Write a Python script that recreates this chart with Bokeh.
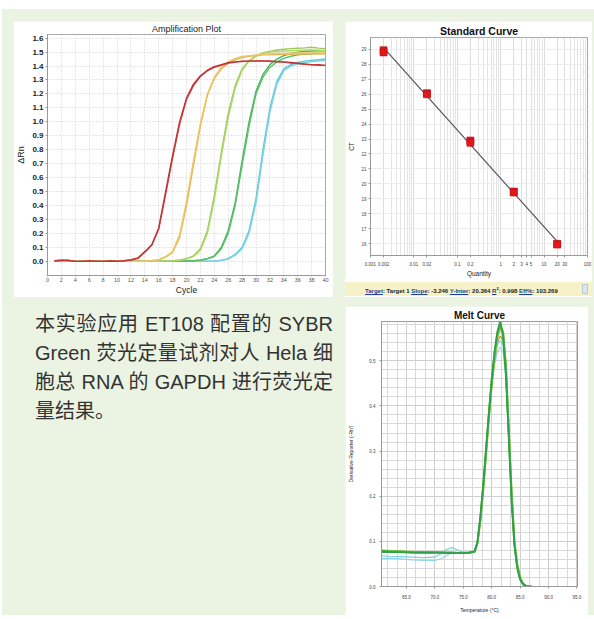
from bokeh.plotting import figure
from bokeh.layouts import row, column
from bokeh.models import (Spacer, Div, FixedTicker, SingleIntervalTicker, PrintfTickFormatter,
                          CustomJSTickFormatter, Range1d)
from bokeh.embed import file_html
from bokeh.resources import INLINE
import math

FONT = "Liberation Sans"

# ---------------- Amplification plot data ----------------
cycles = list(range(1, 41))
amp_red_a = [0.005,0.01,0.006,0.0,0.0,0.004,0.0,0.0,0.003,0.0, 0.005,0.012,0.025,0.07,0.12,0.24,0.50,0.76,1.00,1.17,
             1.27,1.33,1.37,1.395,1.41,1.425,1.43,1.435,1.435,1.437, 1.437,1.435,1.432,1.43,1.425,1.42,1.415,1.41,1.41,1.405]
amp_red_b = [0.0,0.005,0.008,0.002,0.0,0.003,0.002,0.0,0.004,0.002, 0.004,0.01,0.02,0.065,0.115,0.23,0.48,0.74,0.98,1.16,
             1.26,1.325,1.365,1.39,1.405,1.42,1.428,1.432,1.435,1.435, 1.436,1.434,1.43,1.428,1.422,1.418,1.412,1.408,1.405,1.405]
amp_yel_a = [0.0,0.002,0.0,0.0,0.001,0.0,0.0,0.002,0.0,0.0, 0.0,0.001,0.0,0.002,0.005,0.01,0.03,0.065,0.17,0.40,
             0.69,0.97,1.19,1.31,1.38,1.42,1.445,1.46,1.47,1.475, 1.48,1.48,1.482,1.484,1.485,1.486,1.486,1.487,1.488,1.488]
amp_yel_b = [0.002,0.0,0.001,0.0,0.0,0.002,0.0,0.0,0.001,0.0, 0.002,0.0,0.001,0.003,0.006,0.012,0.035,0.07,0.19,0.43,
             0.72,0.99,1.2,1.32,1.39,1.43,1.455,1.468,1.475,1.48, 1.485,1.488,1.49,1.49,1.492,1.493,1.494,1.494,1.495,1.495]
amp_lgr_a = [0.0,0.0,0.002,0.0,0.0,0.0,0.001,0.0,0.0,0.002, 0.0,0.0,0.001,0.0,0.002,0.0,0.003,0.005,0.01,0.02,
             0.04,0.09,0.22,0.47,0.78,1.06,1.26,1.38,1.44,1.475, 1.495,1.505,1.515,1.52,1.525,1.528,1.53,1.535,1.528,1.525]
amp_lgr_b = [0.002,0.0,0.0,0.001,0.0,0.0,0.0,0.002,0.0,0.0, 0.001,0.0,0.0,0.002,0.0,0.001,0.002,0.004,0.008,0.018,
             0.035,0.08,0.2,0.44,0.75,1.03,1.24,1.37,1.435,1.47, 1.49,1.5,1.505,1.508,1.51,1.512,1.515,1.515,1.514,1.512]
amp_grn_a = [0.0,0.001,0.0,0.0,0.002,0.0,0.0,0.0,0.001,0.0, 0.0,0.002,0.0,0.0,0.001,0.0,0.0,0.002,0.0,0.003,
             0.005,0.01,0.02,0.04,0.1,0.22,0.42,0.72,1.0,1.22, 1.34,1.41,1.45,1.475,1.49,1.50,1.505,1.508,1.51,1.51]
amp_grn_b = [0.001,0.0,0.0,0.002,0.0,0.0,0.001,0.0,0.0,0.0, 0.002,0.0,0.0,0.001,0.0,0.0,0.001,0.0,0.002,0.002,
             0.004,0.008,0.018,0.035,0.09,0.2,0.4,0.69,0.97,1.2, 1.32,1.39,1.43,1.455,1.47,1.48,1.485,1.488,1.49,1.49]
amp_cyn_a = [0.0,0.0,0.001,0.0,0.0,0.002,0.0,0.0,0.0,0.001, 0.0,0.0,0.002,0.0,0.0,0.0,0.001,0.0,0.0,0.002,
             0.0,0.001,0.002,0.003,0.008,0.02,0.05,0.1,0.22,0.45, 0.80,1.10,1.29,1.38,1.41,1.425,1.435,1.44,1.445,1.45]
amp_cyn_b = [0.001,0.0,0.0,0.0,0.002,0.0,0.0,0.001,0.0,0.0, 0.002,0.0,0.0,0.001,0.0,0.0,0.0,0.002,0.0,0.0,
             0.001,0.0,0.001,0.002,0.006,0.017,0.045,0.09,0.2,0.42, 0.76,1.07,1.27,1.365,1.4,1.415,1.425,1.432,1.436,1.44]
amp_xticks = [0, 2, 4, 6, 8, 10, 12, 14, 16, 18, 20, 22, 24, 26, 28, 30, 32, 34, 36, 38, 40]
amp_yticks = [0.0, 0.1, 0.2, 0.3, 0.4, 0.5, 0.6, 0.7, 0.8, 0.9, 1.0, 1.1, 1.2, 1.3, 1.4, 1.5, 1.6]

# ---------------- Standard curve data ----------------
std_qty = [0.002, 0.002, 0.02, 0.02, 0.2, 0.2, 2, 2, 20, 20]
std_ct = [28.95, 28.8, 26.07, 26.0, 22.9, 22.75, 19.48, 19.42, 15.98, 15.93]
std_slope = -3.246
std_yinter = 20.364
std_r2 = 0.998
std_eff = 103.269
std_xticks = [0.001, 0.002, 0.01, 0.02, 0.1, 0.2, 1, 2, 3, 4, 5, 10, 20, 30, 100]
std_yticks = [16, 17, 18, 19, 20, 21, 22, 23, 24, 25, 26, 27, 28, 29]

# ---------------- Melt curve data ----------------
melt_temp = [60.6, 62, 64, 66, 68, 70, 71, 72, 73, 74, 75, 76, 77, 77.5, 78, 78.5, 79, 79.5, 80, 80.5, 81, 81.5,
             82, 82.5, 83, 83.5, 84, 84.5, 85, 85.5, 86, 86.5, 87]
melt_cyan_a = [0.062,0.063,0.061,0.059,0.058,0.058,0.061,0.068,0.076,0.075,0.073,0.074,0.077,
               0.097,0.15,0.22,0.30,0.375,0.44,0.49,0.52,0.53, 0.52,0.46,0.33,0.2,0.095,0.045,0.017,0.006,0.002,0.0,0.0]
melt_cyan_b = [0.068,0.067,0.066,0.065,0.064,0.065,0.072,0.082,0.086,0.081,0.076,0.075,0.077,
               0.098,0.152,0.222,0.30,0.38,0.45,0.50,0.535,0.545, 0.535,0.465,0.335,0.2,0.095,0.045,0.017,0.006,0.002,0.0,0.0]
melt_yellow = [0.078,0.078,0.077,0.076,0.075,0.075,0.075,0.075,0.075,0.074,0.074,0.075,0.077,
               0.096,0.145,0.21,0.29,0.37,0.445,0.505,0.55,0.57, 0.56,0.49,0.35,0.21,0.10,0.05,0.02,0.007,0.002,0.0,0.0]
melt_lgreen = [0.080,0.079,0.078,0.077,0.076,0.076,0.076,0.076,0.075,0.075,0.075,0.076,0.078,
               0.097,0.148,0.215,0.295,0.375,0.45,0.51,0.555,0.575, 0.565,0.49,0.35,0.21,0.10,0.048,0.02,0.007,0.002,0.0,0.0]
melt_green = [0.079,0.078,0.077,0.076,0.076,0.076,0.075,0.075,0.075,0.074,0.074,0.075,0.077,
              0.098,0.15,0.22,0.30,0.38,0.455,0.515,0.56,0.582, 0.56,0.48,0.34,0.2,0.095,0.045,0.018,0.006,0.002,0.0,0.0]
melt_dgreen = [0.077,0.076,0.076,0.075,0.075,0.075,0.075,0.074,0.074,0.074,0.074,0.075,0.078,
               0.10,0.155,0.225,0.305,0.385,0.46,0.52,0.565,0.588, 0.555,0.47,0.33,0.19,0.09,0.04,0.015,0.005,0.001,0.0,0.0]
melt_red = [0.075,0.076,0.075,0.075,0.074,0.074,0.075,0.074,0.074,0.074,0.073,0.074,0.076,
            0.095,0.145,0.21,0.29,0.37,0.44,0.50,0.54,0.555, 0.545,0.47,0.33,0.19,0.09,0.04,0.015,0.005,0.001,0.0,0.0]
melt_xticks = [65, 70, 75, 80, 85, 90, 95]
melt_yticks = [0.0, 0.1, 0.2, 0.3, 0.4, 0.5]

paragraph = ["本实验应用 ET108 配置的 SYBR",
             "Green 荧光定量试剂对人 Hela 细",
             "胞总 RNA 的 GAPDH 进行荧光定",
             "量结果。"]

BG = "#EBF3E3"


def style_axes(p, tick_size, label_size, tick_color="#333333"):
    for ax in (p.xaxis[0], p.yaxis[0]):
        ax.major_label_text_font = FONT
        ax.major_label_text_font_size = tick_size
        ax.major_label_text_color = tick_color
        ax.axis_label_text_font = FONT
        ax.axis_label_text_font_size = label_size
        ax.axis_label_text_font_style = "normal"
        ax.axis_label_text_color = "#222222"
        ax.axis_line_color = "#9a9a9a"
        ax.major_tick_line_color = "#9a9a9a"
        ax.minor_tick_line_color = None
        ax.major_tick_in = 0
        ax.major_tick_out = 2
        ax.major_label_standoff = 2
        ax.axis_label_standoff = 3


# ---------------- Amplification plot ----------------
amp = figure(width=320, height=276, x_range=Range1d(0, 40), y_range=Range1d(-0.101, 1.626),
             output_backend="svg", toolbar_location=None,
             min_border_left=30, min_border_right=8, min_border_top=12, min_border_bottom=19,
             background_fill_color="white", border_fill_color="white", outline_line_color="#a8a8a8")
amp.title.text = "Amplification Plot"
amp.title.align = "center"
amp.title.text_font = FONT
amp.title.text_font_size = "9px"
amp.title.text_font_style = "normal"
amp.title.text_color = "#222222"
amp.title.standoff = 1
style_axes(amp, "6px", "9px", "#555555")
amp.yaxis.major_label_text_font_size = "8px"
amp.yaxis.major_label_text_color = "#222222"
amp.yaxis.major_label_text_font_style = "bold"
amp.xaxis.major_tick_out = 1
amp.xaxis.major_label_standoff = 1
amp.xaxis.axis_label_standoff = 0
amp.xaxis.axis_label_text_font_size = "8.5px"
amp.xaxis.major_label_text_font_size = "5.5px"
amp.xaxis.axis_label = "Cycle"
amp.yaxis.axis_label = "ΔRn"
amp.xaxis.ticker = FixedTicker(ticks=amp_xticks)
amp.yaxis.ticker = FixedTicker(ticks=amp_yticks)
amp.yaxis.formatter = PrintfTickFormatter(format="%.1f")
for g in (amp.xgrid[0], amp.ygrid[0]):
    g.grid_line_color = "#cfcfcf"
    g.grid_line_dash = "1 2"
    g.grid_line_width = 1

amp_series = [
    (amp_cyn_a, "#5EC8DA"), (amp_cyn_b, "#7FD3E2"),
    (amp_grn_a, "#45B55E"), (amp_grn_b, "#5CBF6A"),
    (amp_lgr_a, "#9CCB5A"), (amp_lgr_b, "#B0D66A"),
    (amp_yel_a, "#E2B54C"), (amp_yel_b, "#EDC768"),
    (amp_red_b, "#D0504A"), (amp_red_a, "#C0353A"),
]
for ys, col in amp_series:
    amp.line(cycles, ys, line_color=col, line_width=1.4)

# ---------------- Standard curve ----------------
std = figure(width=247, height=258, x_axis_type="log", x_range=Range1d(0.001, 100), y_range=Range1d(15.2, 29.8),
             output_backend="svg", toolbar_location=None,
             min_border_left=21, min_border_right=5, min_border_top=16, min_border_bottom=17,
             background_fill_color="white", border_fill_color="white", outline_line_color="#a8a8a8")
std.title.text = "Standard Curve"
std.title.align = "center"
std.title.text_font = FONT
std.title.text_font_size = "10.5px"
std.title.text_font_style = "bold"
std.title.text_color = "#111111"
std.title.standoff = 1
style_axes(std, "4.5px", "6.5px", "#444444")
std.xaxis.axis_label = "Quantity"
std.yaxis.axis_label = "CT"
std.xaxis.axis_label_standoff = 1
std.yaxis.axis_label_standoff = 3
std_minor = []
for e in (-3, -2, -1, 0, 1):
    for k in range(1, 10):
        std_minor.append(k * 10 ** e)
std_minor.append(100)
std.xaxis.ticker = FixedTicker(ticks=std_xticks, minor_ticks=std_minor)
std.xaxis.formatter = CustomJSTickFormatter(code="return String(tick);")
std.yaxis.ticker = FixedTicker(ticks=std_yticks)
std.xgrid.grid_line_color = "#d6d6d6"
std.xgrid.minor_grid_line_color = "#e4e4e4"
std.xgrid.grid_line_dash = "1 1"
std.ygrid.grid_line_color = "#ececec"

fit_x = [min(std_qty), max(std_qty)]
fit_y = [std_yinter + std_slope * math.log10(q) for q in fit_x]
std.line(fit_x, fit_y, line_color="#555555", line_width=1.2)
std.scatter(std_qty, std_ct, marker="square", size=7, fill_color="#E4161C", line_color="#B01015", line_width=0.6)

bar_html = (
    '<div style="width:247px;height:18px;background:white;position:relative;">'
    '<div style="position:absolute;left:0;top:3px;width:247px;height:14px;background:#F6F1C6;'
    'font-family:\'Liberation Sans\';font-weight:bold;font-size:6px;line-height:14px;color:#222;'
    'white-space:nowrap;text-indent:20px;">'
    '<span style="color:#1F3F99;text-decoration:underline;">Target</span>: Target 1 '
    '<span style="color:#1F3F99;text-decoration:underline;">Slope</span>: %.3f '
    '<span style="color:#1F3F99;text-decoration:underline;">Y-Inter</span>: %.3f '
    '<span style="color:#1F3F99;text-decoration:underline;">R</span><sup style="font-size:4px;">2</sup>: %.3f '
    '<span style="color:#1F3F99;text-decoration:underline;">Eff%%</span>: %.3f'
    '<span style="position:absolute;right:4px;top:2px;width:6px;height:10px;background:#DCE6F2;'
    'border:1px solid #B8C8DC;"></span>'
    '</div></div>'
) % (std_slope, std_yinter, std_r2, std_eff)
bar = Div(text=bar_html, width=247, height=18, margin=0)

# ---------------- Melt curve ----------------
melt = figure(width=243, height=309, x_range=Range1d(60.6, 95.1), y_range=Range1d(0, 0.587),
              output_backend="svg", toolbar_location=None,
              min_border_left=35, min_border_right=11, min_border_top=15, min_border_bottom=23,
              background_fill_color="white", border_fill_color="white", outline_line_color="#9a9a9a")
melt.title.text = "Melt Curve"
melt.title.align = "center"
melt.title.text_font = FONT
melt.title.text_font_size = "10px"
melt.title.text_font_style = "bold"
melt.title.text_color = "#111111"
melt.title.standoff = 1
style_axes(melt, "4.5px", "5px", "#444444")
melt.xaxis.axis_label = "Temperature (°C)"
melt.yaxis.axis_label = "Derivative Reporter (-Rn')"
melt.yaxis.axis_label_standoff = 12
melt.xaxis.axis_label_standoff = 5
melt.xaxis.major_label_standoff = 4
melt.xaxis.ticker = SingleIntervalTicker(interval=5, num_minor_ticks=3)
melt.yaxis.ticker = SingleIntervalTicker(interval=0.1, num_minor_ticks=5)
melt.xaxis.formatter = PrintfTickFormatter(format="%.1f")
melt.yaxis.formatter = PrintfTickFormatter(format="%.1f")
for g in (melt.xgrid[0], melt.ygrid[0]):
    g.grid_line_color = "#cfcfcf"
    g.minor_grid_line_color = "#d9d9d9"
    g.grid_line_width = 1

melt_series = [
    (melt_cyan_a, "#8FD6E6", 1.2), (melt_cyan_b, "#7ECFE0", 1.2),
    (melt_red, "#D9632E", 1.0),
    (melt_yellow, "#C9CB4E", 1.8), (melt_lgreen, "#8CC84A", 2.0),
    (melt_green, "#4DB74F", 2.0), (melt_dgreen, "#2FA048", 1.8),
]
for ys, col, lw in melt_series:
    melt.line(melt_temp, ys, line_color=col, line_width=lw)

# ---------------- Paragraph ----------------
parts = []
for i, ln in enumerate(paragraph):
    last = "justify" if i < len(paragraph) - 1 else "left"
    parts.append('<div style="text-align:justify;text-align-last:%s;white-space:nowrap;">%s</div>' % (last, ln))
para_html = ('<div style="width:298px;font-family:\'Liberation Sans\',\'Noto Sans CJK SC\';font-size:20px;'
             'line-height:29px;color:#333333;">' + "".join(parts) + '</div>')
para = Div(text=para_html, width=300, height=130, margin=0)

# ---------------- Layout (page has no margin: coordinates are page pixels) ----------------
row1 = row(Spacer(width=11, height=276), amp, Spacer(width=12, height=276), column(std, bar))
row2 = row(Spacer(width=33, height=318), column(Spacer(width=300, height=13), para),
           Spacer(width=10, height=318), column(Spacer(width=243, height=9), melt))
green = column(Spacer(width=592, height=12), row1, row2, styles={"background-color": BG})
root = column(Spacer(width=594, height=9), row(Spacer(width=2, height=610), green),
              styles={"background-color": "white"})

open("out.html", "w").write(file_html(root, INLINE))
